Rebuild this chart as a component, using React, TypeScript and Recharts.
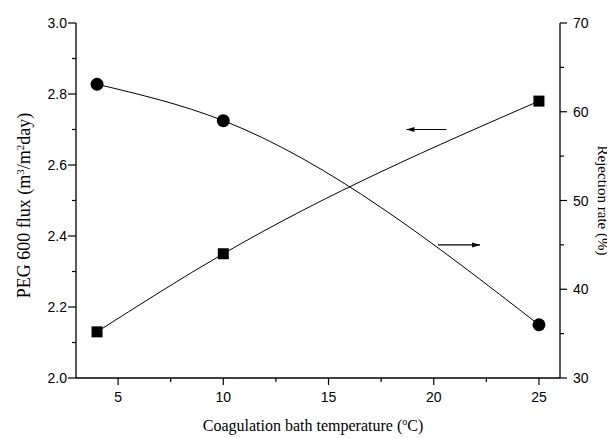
import React from "react";
import { LineChart, Line, XAxis, YAxis, ReferenceLine, ReferenceDot } from "recharts";

const temperatures = [4, 10, 25];
const fluxValues = [2.13, 2.35, 2.78];
const rejectionValues = [63.1, 59, 36];

const xMajorTicks = [5, 10, 15, 20, 25];
const xAllTicks = [5, 7.5, 10, 12.5, 15, 17.5, 20, 22.5, 25];
const leftMajorTicks = [2.0, 2.2, 2.4, 2.6, 2.8, 3.0];
const leftAllTicks = [2.0, 2.1, 2.2, 2.3, 2.4, 2.5, 2.6, 2.7, 2.8, 2.9, 3.0];
const rightMajorTicks = [30, 40, 50, 60, 70];
const rightAllTicks = [30, 35, 40, 45, 50, 55, 60, 65, 70];

const arrowLeft = { x1: 18.7, x2: 20.6, y: 2.70 };
const arrowRight = { x1: 20.2, x2: 22.2, y: 2.375 };

const data = temperatures.map((t, i) => ({ t, flux: fluxValues[i], rej: rejectionValues[i] }));

const isMajor = (arr: number[], v: number) => arr.some((m) => Math.abs(m - v) < 1e-6);

const tickFont = { fontFamily: "'Liberation Sans', Arial, sans-serif", fontSize: 14, fill: "#000" };
const titleFont = { fontFamily: "'Liberation Serif', 'Times New Roman', serif", fontSize: 16, fill: "#000" };

const BottomTick = (p: any) => {
  const { x, y, payload } = p;
  const major = isMajor(xMajorTicks, payload.value);
  return (
    <g>
      <line x1={x} x2={x} y1={y} y2={y + (major ? 7 : 4)} stroke="#000" strokeWidth={1.2} />
      {major && (
        <text x={x} y={y + 24} textAnchor="middle" {...tickFont}>
          {payload.value}
        </text>
      )}
    </g>
  );
};

const TopTick = (p: any) => {
  const { x, y, payload } = p;
  const major = isMajor(xMajorTicks, payload.value);
  return <line x1={x} x2={x} y1={y} y2={y + (major ? 5 : 4)} stroke="#000" strokeWidth={1.2} />;
};

const LeftTick = (p: any) => {
  const { x, y, payload } = p;
  const major = isMajor(leftMajorTicks, payload.value);
  return (
    <g>
      <line x1={x - (major ? 8 : 4)} x2={x} y1={y} y2={y} stroke="#000" strokeWidth={1.2} />
      {major && (
        <text x={x - 9} y={y + 5} textAnchor="end" {...tickFont}>
          {Number(payload.value).toFixed(1)}
        </text>
      )}
    </g>
  );
};

const RightTick = (p: any) => {
  const { x, y, payload } = p;
  const major = isMajor(rightMajorTicks, payload.value);
  return (
    <g>
      <line x1={x} x2={x + (major ? 7 : 4)} y1={y} y2={y} stroke="#000" strokeWidth={1.2} />
      {major && (
        <text x={x + 13} y={y + 5} textAnchor="start" {...tickFont}>
          {payload.value}
        </text>
      )}
    </g>
  );
};

const SquareDot = (p: any) => {
  const { cx, cy, index } = p;
  return <rect key={`sq-${index}`} x={cx - 5.5} y={cy - 5.5} width={11} height={11} fill="#000" />;
};

const CircleDot = (p: any) => {
  const { cx, cy, index } = p;
  return <circle key={`ci-${index}`} cx={cx} cy={cy} r={6.5} fill="#000" />;
};

const HeadLeft = (p: any) => {
  const { cx, cy } = p;
  return <path d={`M${cx},${cy} L${cx + 8},${cy - 2.5} L${cx + 8},${cy + 2.5} Z`} fill="#000" />;
};

const HeadRight = (p: any) => {
  const { cx, cy } = p;
  return <path d={`M${cx},${cy} L${cx - 8},${cy - 2.5} L${cx - 8},${cy + 2.5} Z`} fill="#000" />;
};

const LeftTitle = (p: any) => {
  const { viewBox } = p;
  const cx = viewBox.x + 22;
  const cy = viewBox.y + viewBox.height / 2 + 5;
  return (
    <text transform={`translate(${cx},${cy}) rotate(-90)`} textAnchor="middle" {...titleFont} fontSize={18}>
      <tspan>PEG 600 flux (m</tspan>
      <tspan dy={-6} fontSize={11}>3</tspan>
      <tspan dy={6}>/m</tspan>
      <tspan dy={-6} fontSize={11}>2</tspan>
      <tspan dy={6}>day)</tspan>
    </text>
  );
};

const RightTitle = (p: any) => {
  const { viewBox } = p;
  const cx = viewBox.x + 38;
  const cy = viewBox.y + viewBox.height / 2;
  return (
    <text transform={`translate(${cx},${cy}) rotate(90)`} textAnchor="middle" {...titleFont} fontSize={15}>
      Rejection rate (%)
    </text>
  );
};

const BottomTitle = (p: any) => {
  const { viewBox } = p;
  const cx = viewBox.x + viewBox.width / 2 - 5;
  const cy = viewBox.y + 53;
  return (
    <text x={cx} y={cy} textAnchor="middle" {...titleFont}>
      <tspan>Coagulation bath temperature (</tspan>
      <tspan dy={-6} fontSize={10}>o</tspan>
      <tspan dy={6}>C)</tspan>
    </text>
  );
};

export default function App() {
  return (
    <LineChart
      width={607}
      height={430}
      data={data}
      margin={{ top: 15, right: 0, bottom: 0, left: 0 }}
      style={{ background: "#fff" }}
    >
      <XAxis
        dataKey="t"
        type="number"
        domain={[3, 26]}
        ticks={xAllTicks}
        interval={0}
        height={60}
        tickSize={0}
        tickMargin={0}
        tick={<BottomTick />}
        axisLine={{ stroke: "#000", strokeWidth: 1.3 }}
        tickLine={false}
        allowDataOverflow
        label={{ content: <BottomTitle /> }}
      />
      <XAxis
        xAxisId="top"
        orientation="top"
        dataKey="t"
        type="number"
        domain={[3, 26]}
        ticks={xAllTicks}
        interval={0}
        height={0}
        tickSize={0}
        tickMargin={0}
        tick={<TopTick />}
        axisLine={{ stroke: "#000", strokeWidth: 1.3 }}
        tickLine={false}
        allowDataOverflow
      />
      <YAxis
        yAxisId="left"
        orientation="left"
        type="number"
        domain={[2.0, 3.0]}
        ticks={leftAllTicks}
        interval={0}
        width={68}
        tickSize={0}
        tickMargin={0}
        tick={<LeftTick />}
        axisLine={{ stroke: "#000", strokeWidth: 1.3 }}
        tickLine={false}
        allowDataOverflow
        label={{ content: <LeftTitle /> }}
      />
      <YAxis
        yAxisId="right"
        orientation="right"
        type="number"
        domain={[30, 70]}
        ticks={rightAllTicks}
        interval={0}
        width={55}
        tickSize={0}
        tickMargin={0}
        tick={<RightTick />}
        axisLine={{ stroke: "#000", strokeWidth: 1.3 }}
        tickLine={false}
        allowDataOverflow
        label={{ content: <RightTitle /> }}
      />
      <Line
        yAxisId="left"
        dataKey="flux"
        type="monotone"
        stroke="#000"
        strokeWidth={1}
        dot={<SquareDot />}
        activeDot={false}
        isAnimationActive={false}
      />
      <Line
        yAxisId="right"
        dataKey="rej"
        type="monotone"
        stroke="#000"
        strokeWidth={1}
        dot={<CircleDot />}
        activeDot={false}
        isAnimationActive={false}
      />
      <ReferenceLine
        yAxisId="left"
        segment={[{ x: arrowLeft.x1, y: arrowLeft.y }, { x: arrowLeft.x2, y: arrowLeft.y }]}
        stroke="#000"
        strokeWidth={1.2}
      />
      <ReferenceDot yAxisId="left" x={arrowLeft.x1} y={arrowLeft.y} r={0} shape={<HeadLeft />} />
      <ReferenceLine
        yAxisId="left"
        segment={[{ x: arrowRight.x1, y: arrowRight.y }, { x: arrowRight.x2, y: arrowRight.y }]}
        stroke="#000"
        strokeWidth={1.2}
      />
      <ReferenceDot yAxisId="left" x={arrowRight.x2} y={arrowRight.y} r={0} shape={<HeadRight />} />
    </LineChart>
  );
}
